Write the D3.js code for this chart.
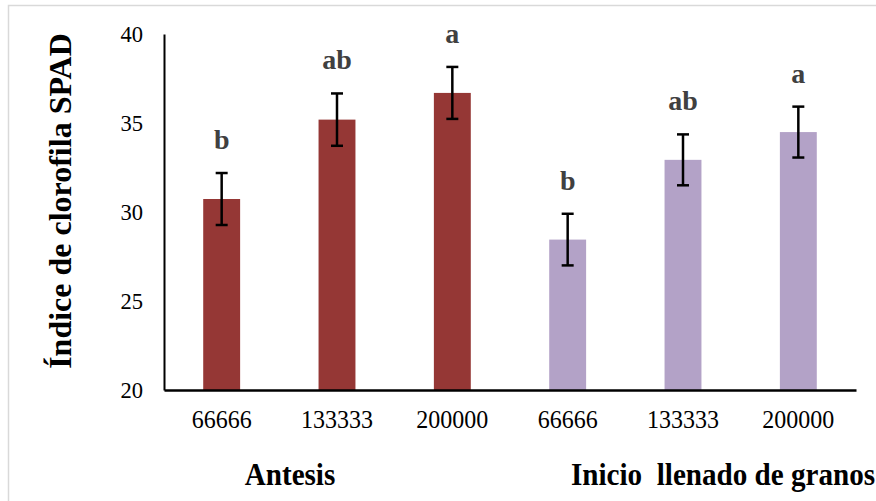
<!DOCTYPE html>
<html>
<head>
<meta charset="utf-8">
<script src="https://cdn.jsdelivr.net/npm/d3@7"></script>
<style>
  body { margin: 0; background: #fff; }
  svg text { font-family: "Liberation Serif", "Times New Roman", serif; }
</style>
</head>
<body>
<div id="chart"></div>
<script>
// density labels (plants per ha) for each bar, two stages
var densities = ["66666", "133333", "200000", "66666", "133333", "200000"];
var stages = ["Antesis", "Antesis", "Antesis", "Inicio  llenado de granos", "Inicio  llenado de granos", "Inicio  llenado de granos"];
var spadMeans = [30.73, 35.19, 36.69, 28.45, 32.93, 34.49];
var spadErrors = [1.46, 1.47, 1.46, 1.45, 1.43, 1.43];
var letters = ["b", "ab", "a", "b", "ab", "a"];
var yTicks = [20, 25, 30, 35, 40];
var stageNames = ["Antesis", "Inicio  llenado de granos"];

var width = 876, height = 501;
var margin = { top: 34, right: 20, bottom: 111, left: 164 };

var svg = d3.select("#chart").append("svg")
    .attr("width", width)
    .attr("height", height);

// light frame of the chart area
svg.append("rect")
    .attr("x", 8.5)
    .attr("y", 5.5)
    .attr("width", width)
    .attr("height", height)
    .style("fill", "none")
    .style("stroke", "#d9d9d9")
    .style("stroke-width", 1.5);

var x = d3.scaleBand()
    .domain(d3.range(densities.length))
    .range([margin.left, 856])
    .padding(0);

var y = d3.scaleLinear()
    .domain([20, 40])
    .range([390, margin.top]);

var barW = x.bandwidth() * 0.32;

var color = function(i) {
    return stages[i] == "Antesis" ? "#953735" : "#b3a2c7";
};

// bars
svg.selectAll(".bar")
    .data(spadMeans)
    .enter().append("rect")
    .attr("class", "bar")
    .attr("x", function(d, i) { return x(i) + x.bandwidth() / 2 - barW / 2; })
    .attr("y", function(d) { return y(d); })
    .attr("width", barW)
    .attr("height", function(d) { return y(20) - y(d); })
    .style("fill", function(d, i) { return color(i); });

// error bars
var err = svg.selectAll(".err")
    .data(spadMeans)
    .enter().append("g")
    .attr("class", "err")
    .style("stroke", "#000")
    .style("stroke-width", 2.5);

err.append("line")
    .attr("x1", function(d, i) { return x(i) + x.bandwidth() / 2; })
    .attr("x2", function(d, i) { return x(i) + x.bandwidth() / 2; })
    .attr("y1", function(d, i) { return y(d + spadErrors[i]); })
    .attr("y2", function(d, i) { return y(d - spadErrors[i]); });

[1, -1].forEach(function(s) {
    err.append("line")
        .attr("x1", function(d, i) { return x(i) + x.bandwidth() / 2 - 6; })
        .attr("x2", function(d, i) { return x(i) + x.bandwidth() / 2 + 6; })
        .attr("y1", function(d, i) { return y(d + s * spadErrors[i]); })
        .attr("y2", function(d, i) { return y(d + s * spadErrors[i]); });
});

// significance letters
svg.selectAll(".letter")
    .data(letters)
    .enter().append("text")
    .attr("class", "letter")
    .attr("x", function(d, i) { return x(i) + x.bandwidth() / 2; })
    .attr("y", function(d, i) { return y(spadMeans[i] + spadErrors[i]) - 24; })
    .attr("text-anchor", "middle")
    .style("font-size", "28px")
    .style("font-weight", "bold")
    .style("fill", "#404040")
    .text(function(d) { return d; });

// y axis
var yAxis = svg.append("g")
    .attr("transform", "translate(" + margin.left + ",0)")
    .call(d3.axisLeft(y).tickValues(yTicks).tickSize(0).tickPadding(21));
yAxis.select(".domain").style("stroke", "#000").style("stroke-width", 2);
yAxis.selectAll("text")
    .style("font-size", "24px")
    .style("fill", "#000")
    .attr("transform", "scale(0.94,1)")
    .attr("x", -21 / 0.94);

// x axis
var xAxis = svg.append("g")
    .attr("transform", "translate(0,390)")
    .call(d3.axisBottom(x).tickSize(0).tickPadding(20).tickFormat(function(i) { return densities[i]; }));
xAxis.select(".domain").style("stroke", "#000").style("stroke-width", 2.5);
xAxis.selectAll("text")
    .style("font-size", "25px")
    .style("fill", "#000")
    .attr("lengthAdjust", "spacingAndGlyphs")
    .attr("textLength", function() { return d3.select(this).text().length == 6 ? 72 : 60; });

// stage labels under the density ticks
var stageX = [290, 571];
svg.selectAll(".stage")
    .data(stageNames)
    .enter().append("text")
    .attr("class", "stage")
    .attr("transform", function(d, i) {
        return "translate(" + stageX[i] + ",485) scale(0.91,1)";
    })
    .attr("text-anchor", function(d, i) { return i == 0 ? "middle" : "start"; })
    .style("font-size", "32px")
    .style("font-weight", "bold")
    .style("white-space", "pre")
    .text(function(d) { return d; });

// y title
svg.append("text")
    .attr("transform", "translate(71,201) rotate(-90)")
    .attr("text-anchor", "middle")
    .style("font-size", "32px")
    .style("font-weight", "bold")
    .text("Índice de clorofila SPAD");
</script>
</body>
</html>
